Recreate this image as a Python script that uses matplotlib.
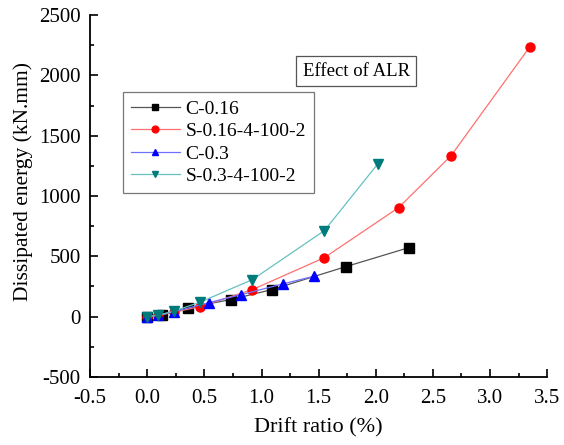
import matplotlib.pyplot as plt
from matplotlib.ticker import MultipleLocator

# datos
x_c016 = [0.0, 0.13, 0.36, 0.73, 1.09, 1.74, 2.29]
y_c016 = [0, 17, 75, 141, 224, 415, 572]

x_s016 = [0.0, 0.09, 0.23, 0.46, 0.92, 1.55, 2.2, 2.66, 3.35]
y_s016 = [0, 10, 35, 83, 224, 489, 904, 1335, 2239]

x_c03 = [0.0, 0.09, 0.23, 0.54, 0.82, 1.19, 1.46]
y_c03 = [0, 12, 40, 116, 182, 272, 335]

x_s03 = [0.0, 0.09, 0.23, 0.46, 0.92, 1.55, 2.02]
y_s03 = [0, 10, 45, 119, 307, 713, 1269]

series = [
    ("C-0.16", x_c016, y_c016, "s", "black", "#555555"),
    ("S-0.16-4-100-2", x_s016, y_s016, "o", "red", "#ff7070"),
    ("C-0.3", x_c03, y_c03, "^", "blue", "#7070ff"),
    ("S-0.3-4-100-2", x_s03, y_s03, "v", "#007b7b", "#66c0c0"),
]

plt.rcParams['font.family'] = ['Liberation Serif', 'DejaVu Serif']
plt.rcParams['axes.unicode_minus'] = False

fig = plt.figure(figsize=(5.64, 4.45), dpi=100)
ax = fig.add_axes([0.16, 0.153, 0.81, 0.813])

for nombre, xs, ys, m, c_marca, c_linea in series:
    ax.plot(xs, ys, color=c_linea, linewidth=0.9, marker=m, markersize=6.5,
            markerfacecolor=c_marca, markeredgecolor=c_marca, label=nombre)

ax.set_xlim(-0.5, 3.5)
ax.set_ylim(-500, 2500)
ax.xaxis.set_major_locator(MultipleLocator(0.5))
ax.xaxis.set_minor_locator(MultipleLocator(0.25))
ax.yaxis.set_major_locator(MultipleLocator(500))
ax.yaxis.set_minor_locator(MultipleLocator(250))
ax.tick_params(which='both', direction='in', labelsize=15, width=1.2)
ax.tick_params(which='major', length=6)
ax.tick_params(which='minor', length=3)
ax.tick_params(axis='x', pad=9)
ax.tick_params(axis='y', pad=7)
ax.spines['top'].set_visible(False)
ax.spines['right'].set_visible(False)
ax.spines['left'].set_linewidth(1.3)
ax.spines['bottom'].set_linewidth(1.3)

ax.set_xlabel('Drift ratio (%)', fontsize=16, labelpad=7)
ax.set_ylabel('Dissipated energy (kN.mm)', fontsize=15.5)
ax.yaxis.set_label_coords(-0.125, 0.54)

leg = ax.legend(loc='upper left', bbox_to_anchor=(0.072, 0.787), fontsize=14,
                frameon=True, fancybox=False, edgecolor='#555555',
                handlelength=2.5, handletextpad=0.3, borderpad=0.4,
                labelspacing=0.25, borderaxespad=0, markerscale=0.75)
leg.get_frame().set_linewidth(0.9)

ax.text(0.582, 0.845, 'Effect of ALR', transform=ax.transAxes, fontsize=13.5,
        ha='center', va='center',
        bbox=dict(boxstyle='square,pad=0.35', facecolor='white',
                  edgecolor='#555555', linewidth=0.9))

fig.savefig('out.png', dpi=100)
